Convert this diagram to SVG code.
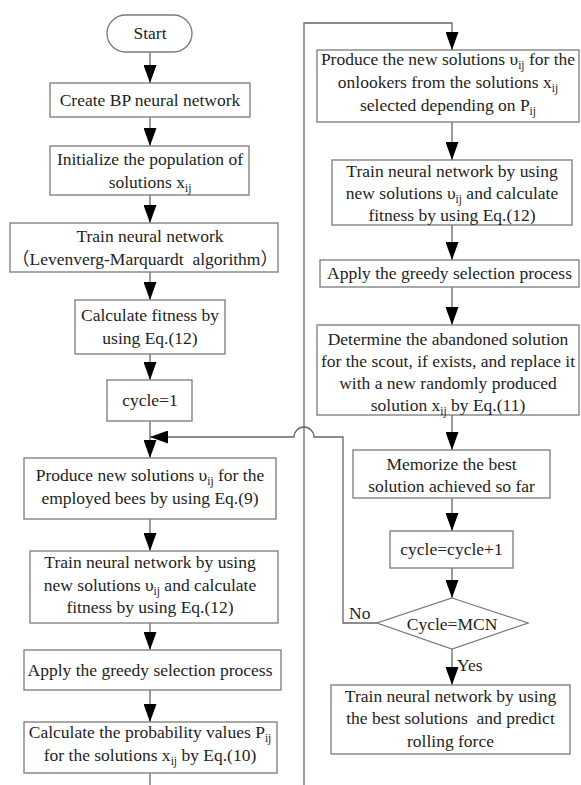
<svg xmlns="http://www.w3.org/2000/svg" width="581" height="785" viewBox="0 0 581 785">
<defs>
<marker id="ah" viewBox="0 0 18 13" refX="18" refY="6.5" markerWidth="18" markerHeight="13" markerUnits="userSpaceOnUse" orient="auto">
<path d="M0,0 L18,6.5 L0,13 z" fill="#000"/>
</marker>
<style>
.b{fill:#fff;stroke:#7a7a7a;stroke-width:1.3}
.c{fill:none;stroke:#666;stroke-width:1.3}
.a{marker-end:url(#ah)}
text{font-family:"Liberation Serif","Noto Sans CJK SC",serif;font-size:17.5px;fill:#1e1e1e;text-anchor:middle;white-space:pre}
.s{font-size:11.5px}
.l{text-anchor:start}
</style>
</defs>
<rect width="581" height="785" fill="#fff"/>
<g id="connectors">
<path class="c a" d="M150,52 V83"/>
<path class="c a" d="M150,117 V146"/>
<path class="c a" d="M150,195 V223"/>
<path class="c a" d="M150,272 V300"/>
<path class="c a" d="M150,354 V380"/>
<path class="c a" d="M150,421 V458"/>
<path class="c a" d="M150,519 V551"/>
<path class="c a" d="M150,623 V650"/>
<path class="c a" d="M150,690 V722"/>
<path class="c" d="M150,773 V785"/>
<path class="c a" d="M304,785 V23 H452 V50"/>
<path class="c a" d="M452,122 V160"/>
<path class="c a" d="M452,225 V260"/>
<path class="c a" d="M452,287 V325"/>
<path class="c a" d="M452,415 V450"/>
<path class="c a" d="M452,498 V531"/>
<path class="c a" d="M452,568 V598"/>
<path class="c a" d="M452,649 V685"/>
<path class="c a" d="M377,623 H343 V437 H314 A10,10 0 0 0 294,437 H150"/>
</g>
<g id="start"><rect class="b" x="107" y="15" width="85" height="37" rx="18.5"/><text x="150" y="39">Start</text></g>
<g id="create"><rect class="b" x="50" y="83" width="200" height="34"/><text x="150" y="106">Create BP neural network</text></g>
<g id="init"><rect class="b" x="50" y="146" width="199" height="49"/><text x="150" y="165">Initialize the population of</text><text x="150" y="187.5">solutions x<tspan class="s" dy="4">ij</tspan></text></g>
<g id="train1"><rect class="b" x="10" y="223" width="268" height="49"/><text x="150" y="242">Train neural network</text><text x="145" y="264.5">（Levenverg-Marquardt  algorithm）</text></g>
<g id="fitness"><rect class="b" x="75" y="300" width="150" height="54"/><text x="150" y="321">Calculate fitness by</text><text x="150" y="344">using Eq.(12)</text></g>
<g id="cycle1"><rect class="b" x="107" y="380" width="85" height="41"/><text x="150" y="406">cycle=1</text></g>
<g id="employed"><rect class="b" x="24" y="458" width="252" height="61"/><text x="150" y="481">Produce new solutions υ<tspan class="s" dy="4">ij</tspan><tspan dy="-4"> for the</tspan></text><text x="150" y="504">employed bees by using Eq.(9)</text></g>
<g id="train2"><rect class="b" x="30" y="551" width="248" height="72"/><text x="150" y="568">Train neural network by using</text><text x="150" y="590.5">new solutions υ<tspan class="s" dy="4">ij</tspan><tspan dy="-4"> and calculate</tspan></text><text x="150" y="613">fitness by using Eq.(12)</text></g>
<g id="greedy1"><rect class="b" x="24" y="650" width="257" height="40"/><text x="150" y="676">Apply the greedy selection process</text></g>
<g id="prob"><rect class="b" x="24" y="722" width="253" height="51"/><text x="150" y="738">Calculate the probability values P<tspan class="s" dy="4">ij</tspan></text><text x="150" y="761">for the solutions x<tspan class="s" dy="4">ij</tspan><tspan dy="-4"> by Eq.(10)</tspan></text></g>
<g id="onlookers"><rect class="b" x="317" y="50" width="262" height="72"/><text x="448" y="65">Produce the new solutions υ<tspan class="s" dy="4">ij</tspan><tspan dy="-4"> for the</tspan></text><text x="448" y="88">onlookers from the solutions x<tspan class="s" dy="4">ij</tspan></text><text x="448" y="111">selected depending on P<tspan class="s" dy="4">ij</tspan></text></g>
<g id="train3"><rect class="b" x="332" y="160" width="240" height="65"/><text x="452" y="177">Train neural network by using</text><text x="452" y="199">new solutions υ<tspan class="s" dy="4">ij</tspan><tspan dy="-4"> and calculate</tspan></text><text x="452" y="221">fitness by using Eq.(12)</text></g>
<g id="greedy2"><rect class="b" x="320" y="260" width="259" height="27"/><text x="449.5" y="279">Apply the greedy selection process</text></g>
<g id="scout"><rect class="b" x="317" y="325" width="262" height="90"/><text x="448" y="345">Determine the abandoned solution</text><text x="448" y="367">for the scout, if exists, and replace it</text><text x="448" y="389">with a new randomly produced</text><text x="448" y="411">solution x<tspan class="s" dy="4">ij</tspan><tspan dy="-4"> by Eq.(11)</tspan></text></g>
<g id="memorize"><rect class="b" x="353" y="450" width="197" height="48"/><text x="451.5" y="470">Memorize the best</text><text x="451.5" y="492">solution achieved so far</text></g>
<g id="cycleinc"><rect class="b" x="390" y="531" width="123" height="37"/><text x="451.5" y="555">cycle=cycle+1</text></g>
<g id="decision"><polygon class="b" points="452,598 528,623 452,649 377,623"/><text x="452" y="630">Cycle=MCN</text><text class="l" x="349" y="619">No</text><text class="l" x="457" y="671">Yes</text></g>
<g id="final"><rect class="b" x="331" y="685" width="239" height="69"/><text x="450.5" y="702">Train neural network by using</text><text x="450.5" y="724">the best solutions  and predict</text><text x="450.5" y="747">rolling force</text></g>
</svg>
